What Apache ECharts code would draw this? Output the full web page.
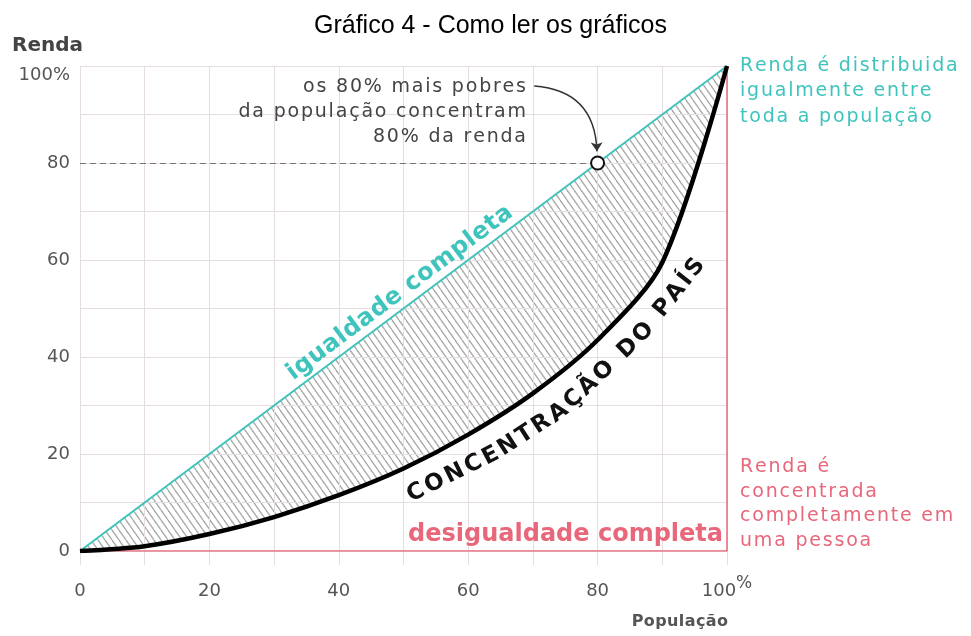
<!DOCTYPE html>
<html>
<head>
<meta charset="utf-8">
<script src="https://cdn.jsdelivr.net/npm/echarts@6/dist/echarts.min.js"></script>
<style>
  html, body { margin: 0; background: #fff; }
  #main { width: 971px; height: 636px; }
</style>
</head>
<body>
<div id="main"></div>
<script>
// dados (curva de Lorenz)
const populacao = [0, 10, 20, 30, 40, 50, 60, 70, 80, 90, 100];
const rendaPais = [0, 1, 3.5, 7, 11.5, 17, 24, 32.5, 43.5, 59.5, 100];
const igualdade = [0, 10, 20, 30, 40, 50, 60, 70, 80, 90, 100];
const desigualdadeX = [0, 100, 100];
const desigualdadeY = [0, 0, 100];
const pontoDestaque = [80, 80];
const setaInicio = [70.2, 95.9];

const xTicks = [0, 20, 40, 60, 80, 100];
const xTickLabels = ['0', '20', '40', '60', '80', '100{p|%}'];
const yTicks = [0, 20, 40, 60, 80, 100];
const yTickLabels = ['0', '20', '40', '60', '80', '{t|100%}'];

const TEAL = '#3fc4bd';
const RED = '#e8677a';
const GRID = '#e6dede';
const FONT = 'DejaVu Sans';
const SMOOTH = 0.3;

const zip = (xs, ys) => xs.map((x, i) => [x, ys[i]]);

// padrão hachurado
const hatch = document.createElement('canvas');
hatch.width = 7;
hatch.height = 10;
const hc = hatch.getContext('2d');
hc.strokeStyle = '#a9a9a9';
hc.lineWidth = 1.3;
[-7, 0, 7].forEach(dx => {
  hc.beginPath();
  hc.moveTo(dx, 0);
  hc.lineTo(dx + 7, 10);
  hc.stroke();
});

const chartDom = document.getElementById('main');
const myChart = echarts.init(chartDom);

const option = {
  animation: false,
  title: {
    text: 'Gráfico 4 - Como ler os gráficos',
    left: 309,
    top: 9,
    textStyle: { fontFamily: 'Liberation Sans', fontSize: 25, fontWeight: 'normal', color: '#000' }
  },
  grid: { left: 80, right: 244, top: 66, bottom: 85 },
  xAxis: {
    type: 'value', min: 0, max: 100, interval: 10, z: 2,
    axisLine: { show: false },
    axisTick: { show: true, length: 14, lineStyle: { color: GRID } },
    splitLine: { lineStyle: { color: GRID } },
    axisLabel: {
      margin: 40,
      verticalAlign: 'middle',
      color: '#555', fontFamily: FONT, fontSize: 18,
      formatter: v => { const i = xTicks.indexOf(v); return i < 0 ? '' : xTickLabels[i]; },
      rich: { p: { color: '#555', fontFamily: FONT, fontSize: 17, padding: [0, 0, 14, 0] } }
    }
  },
  yAxis: {
    type: 'value', min: 0, max: 100, interval: 10, z: 2,
    axisLine: { show: false },
    axisTick: { show: false },
    splitLine: { lineStyle: { color: GRID } },
    axisLabel: {
      margin: 10, color: '#555', fontFamily: FONT, fontSize: 18,
      formatter: v => { const i = yTicks.indexOf(v); return i < 0 ? '' : yTickLabels[i]; },
      rich: { t: { color: '#555', fontFamily: FONT, fontSize: 18, padding: [18, 0, 0, 0] } }
    }
  },
  series: [
    {
      // área hachurada até a linha de igualdade
      type: 'line', z: 1, silent: true, symbol: 'none',
      data: zip(populacao, igualdade),
      lineStyle: { opacity: 0 },
      areaStyle: { color: { image: hatch, repeat: 'repeat' }, opacity: 1 }
    },
    {
      // cobre a parte abaixo da curva do país
      type: 'line', z: 1, silent: true, symbol: 'none', smooth: SMOOTH,
      data: zip(populacao, rendaPais),
      lineStyle: { opacity: 0 },
      areaStyle: { color: '#fff', opacity: 1 }
    },
    {
      type: 'line', z: 3, symbol: 'none',
      data: zip(desigualdadeX, desigualdadeY),
      lineStyle: { color: RED, width: 1.5 }
    },
    {
      type: 'line', z: 4, symbol: 'none',
      data: zip(populacao, igualdade),
      lineStyle: { color: TEAL, width: 2 }
    },
    {
      type: 'line', z: 5, symbol: 'none', smooth: SMOOTH,
      data: zip(populacao, rendaPais),
      lineStyle: { color: '#000', width: 4.5 }
    },
    {
      // seta curva da anotação
      type: 'lines', coordinateSystem: 'cartesian2d', z: 5, silent: true,
      symbol: ['none', 'arrow'], symbolSize: 9,
      lineStyle: { color: '#333', width: 1.5, curveness: 0.45, opacity: 1 },
      data: [{ coords: [setaInicio, [pontoDestaque[0] - 0.1, pontoDestaque[1] + 2.4]] }]
    },
    {
      type: 'scatter', z: 6, clip: false,
      data: [pontoDestaque],
      symbol: 'circle', symbolSize: 13,
      itemStyle: { color: '#fff', borderColor: '#111', borderWidth: 2, opacity: 1 },
      markLine: {
        silent: true,
        symbol: 'none',
        label: { show: false },
        data: [
          [{ coord: [0, pontoDestaque[1]] }, { coord: pontoDestaque }],
          [{ coord: pontoDestaque }, { coord: [pontoDestaque[0], -5] }]
        ],
        lineStyle: { color: '#777', type: [6, 4], width: 1.2 }
      }
    }
  ]
};

myChart.setOption(option);

// textos com espaçamento entre letras e ao longo de caminhos
const measure = document.createElement('canvas').getContext('2d');
const toPx = p => myChart.convertToPixel({ gridIndex: 0 }, p);
function pointAt(pts, d) {
  for (let i = 0; i < pts.length - 1; i++) {
    const [x1, y1] = pts[i], [x2, y2] = pts[i + 1];
    const L = Math.hypot(x2 - x1, y2 - y1);
    if (d <= L || i === pts.length - 2) {
      const t = d / L;
      return [x1 + (x2 - x1) * t, y1 + (y2 - y1) * t];
    }
    d -= L;
  }
}
function charEl(ch, x, y, rot, size, weight, color) {
  return {
    type: 'text', x, y, z: 20, silent: true, rotation: rot,
    style: { text: ch, fill: color, fontFamily: FONT, fontSize: size, fontWeight: weight, align: 'center', verticalAlign: 'middle' }
  };
}
function textOnPath(str, pts, size, weight, color, spacing) {
  measure.font = weight + ' ' + size + 'px "' + FONT + '"';
  const els = [];
  let s = 0;
  for (const ch of str) {
    const w = measure.measureText(ch).width;
    const m = s + w / 2;
    const [x, y] = pointAt(pts, m);
    const a = pointAt(pts, Math.max(0, m - 10)), b = pointAt(pts, m + 10);
    els.push(charEl(ch, x, y, Math.atan2(a[1] - b[1], b[0] - a[0]), size, weight, color));
    s += w + spacing;
  }
  return els;
}
function spacedText(str, x, y, align, color, opts) {
  const o = Object.assign({ size: 19, weight: 'normal', spacing: 1.8 }, opts);
  measure.font = o.weight + ' ' + o.size + 'px "' + FONT + '"';
  let total = -o.spacing;
  for (const ch of str) total += measure.measureText(ch).width + o.spacing;
  const x0 = align === 'right' ? x - total : x;
  return textOnPath(str, [[x0, y], [x0 + 100, y]], o.size, o.weight, color, o.spacing);
}

const caminhoIgualdade = [[32.4, 36.2], [92.4, 96.2]];
const caminhoPais = [[50.77, 11.22], [64.45, 20.21], [74.19, 28.66], [80.37, 36.29], [86.55, 44.12], [91.19, 51.75], [95.05, 58.35]];

const anotacao = ['os 80% mais pobres', 'da população concentram', '80% da renda'];
const textoIgual = ['Renda é distribuida', 'igualmente entre', 'toda a população'];
const textoDesigual = ['Renda é', 'concentrada', 'completamente em', 'uma pessoa'];

let graphic = [
  spacedText('Renda', 12, 46, 'left', '#444', { size: 20, weight: 'bold', spacing: 0 }),
  spacedText('População', 728, 622, 'right', '#555', { size: 16, weight: 'bold', spacing: 0.4 }),
  spacedText('desigualdade completa', 723, 535, 'right', RED, { size: 24, weight: 'bold', spacing: 0 })
];
anotacao.forEach((t, i) => graphic.push(spacedText(t, 526, 87 + i * 25, 'right', '#444')));
textoIgual.forEach((t, i) => graphic.push(spacedText(t, 740, 66 + i * 25.5, 'left', TEAL)));
textoDesigual.forEach((t, i) => graphic.push(spacedText(t, 740, 467 + i * 24.7, 'left', RED)));
graphic.push(textOnPath('igualdade completa', caminhoIgualdade.map(toPx), 24, 'bold', TEAL, 0.5));
graphic.push(textOnPath('CONCENTRAÇÃO DO PAÍS', caminhoPais.map(toPx), 23, 'bold', '#111', 2.8));
graphic = graphic.flat();

myChart.setOption({ graphic });
</script>
</body>
</html>
